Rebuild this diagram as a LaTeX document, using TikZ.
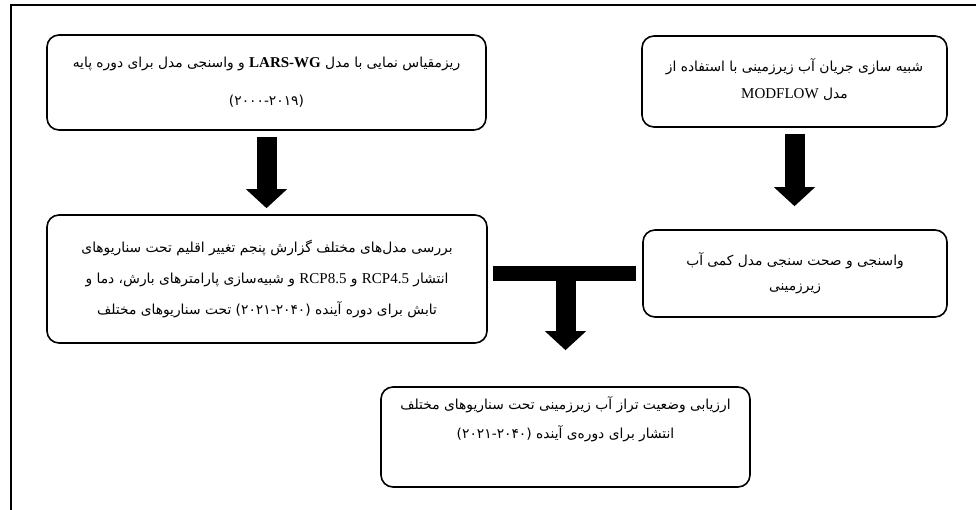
\documentclass[tikz,border=0pt]{standalone}
\usepackage{fontspec}
\setmainfont{Liberation Serif}
\newfontfamily\arabicfont[Script=Arabic]{DejaVu Sans}
\TeXXeTstate=1
\usetikzlibrary{arrows.meta}
\newcommand{\lat}[1]{\beginL{\rmfamily\fontsize{15}{29}\selectfont #1}\endL{}}
\tikzset{
	box/.style={draw, line width=1.6pt, rounded corners=12pt, align=center,
		font=\arabicfont\fontsize{13.8}{29}\selectfont, inner sep=0pt},
	fat/.style={line width=20pt, -{Triangle[width=40pt,length=19pt]}},
}
\begin{document}
\begin{tikzpicture}[x=1pt,y=-1pt]
	\useasboundingbox (0,0) rectangle (976,510);
	\draw[line width=1.6pt] (976,5)--(11,5)--(11,510);
	\node[box, minimum width=439pt, minimum height=95pt] (A) at (266.5,82.5)
	{\beginR ریزمقیاس نمایی با مدل \lat{\bfseries LARS-WG} و واسنجی مدل برای دوره پایه\endR\\[9pt]
	 \beginL(۲۰۰۰-۲۰۱۹)\endL};
	\node[box, minimum width=305pt, minimum height=91pt] (B) at (794.5,81.5)
	{\beginR شبیه سازی جریان آب زیرزمینی با استفاده از\endR\\[-2pt]
	 \beginR مدل \lat{MODFLOW}\endR\\[-24pt]\mbox{}};
	\node[box, minimum width=440pt, minimum height=128pt] (C) at (267,279)
	{\beginR بررسی مدل‌های مختلف گزارش پنجم تغییر اقلیم تحت سناریوهای\endR\\[2pt]
	 \beginR انتشار \lat{RCP4.5} و \lat{RCP8.5} و شبیه‌سازی پارامترهای بارش، دما و\endR\\[2pt]
	 \beginR تابش برای دوره آینده \beginL(۲۰۲۱-۲۰۴۰)\endL{} تحت سناریوهای مختلف\endR};
	\node[box, minimum width=304pt, minimum height=87pt] (D) at (795,273.5)
	{\beginR واسنجی و صحت سنجی مدل کمی آب\endR\\[-4pt]
	 \beginR زیرزمینی\endR};
	\node[box, minimum width=369pt, minimum height=100pt] (E) at (565.5,437)
	{\beginR ارزیابی وضعیت تراز آب زیرزمینی تحت سناریوهای مختلف\endR\\
	 \beginR انتشار برای دوره‌ی آینده \beginL(۲۰۲۱-۲۰۴۰)\endL\endR\\[10pt]\mbox{}};
	% arrows
	\draw[fat, shorten <=6pt, shorten >=6pt] (A.south) -- (A.south |- C.north);
	\draw[fat, shorten <=6pt, shorten >=23pt] (B.south) -- (B.south |- D.north);
	\draw[line width=15pt, shorten <=5pt, shorten >=6pt] (C.east |- D.west) -- (D.west);
	\coordinate (tee) at (E.north |- D.west);
	\draw[fat, shorten >=36pt] (tee) -- (E.north);
\end{tikzpicture}
\end{document}
